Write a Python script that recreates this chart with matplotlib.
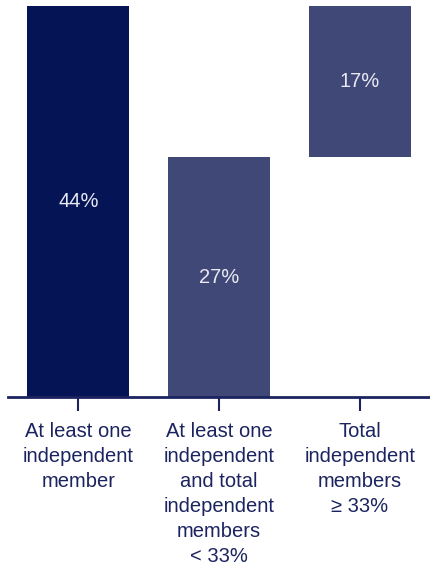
import matplotlib
matplotlib.use('Agg')
import matplotlib.pyplot as plt

# waterfall: total share, then the split into its two parts
categories = ['At least one\nindependent\nmember',
              'At least one\nindependent\nand total\nindependent\nmembers\n< 33%',
              'Total\nindependent\nmembers\n≥ 33%']
values = [44, 27, 17]
bottoms = [0, 0, 27]
labels = ['44%', '27%', '17%']

navy = '#041454'
slate = '#404878'
text_col = '#1c2460'

plt.rcParams['font.family'] = ['Liberation Sans', 'DejaVu Sans']

fig = plt.figure(figsize=(4.3, 5.72), dpi=100)
ax = fig.add_axes([8 / 430, (572 - 397) / 572, 422 / 430, 397 / 572])

colors = [navy, slate, slate]
bars = ax.bar(range(len(values)), values, bottom=bottoms, width=0.725, color=colors)

for b, lab in zip(bars, labels):
    ax.text(b.get_x() + b.get_width() / 2, b.get_y() + b.get_height() / 2, lab,
            ha='center', va='center', color='#e8e9f2', fontsize=14.5)

ax.set_xlim(-0.5, 2.5)
ax.set_ylim(0, 44.7)
ax.set_yticks([])
ax.set_xticks(range(len(categories)))
ax.set_xticklabels(categories, fontsize=14.5, color=text_col, linespacing=1.4, va='top')
ax.tick_params(axis='x', length=10, width=1.5, color=text_col, pad=8)

for side in ['top', 'right', 'left']:
    ax.spines[side].set_visible(False)
ax.spines['bottom'].set_color(text_col)
ax.spines['bottom'].set_linewidth(2)

fig.savefig('out.png', dpi=100)
